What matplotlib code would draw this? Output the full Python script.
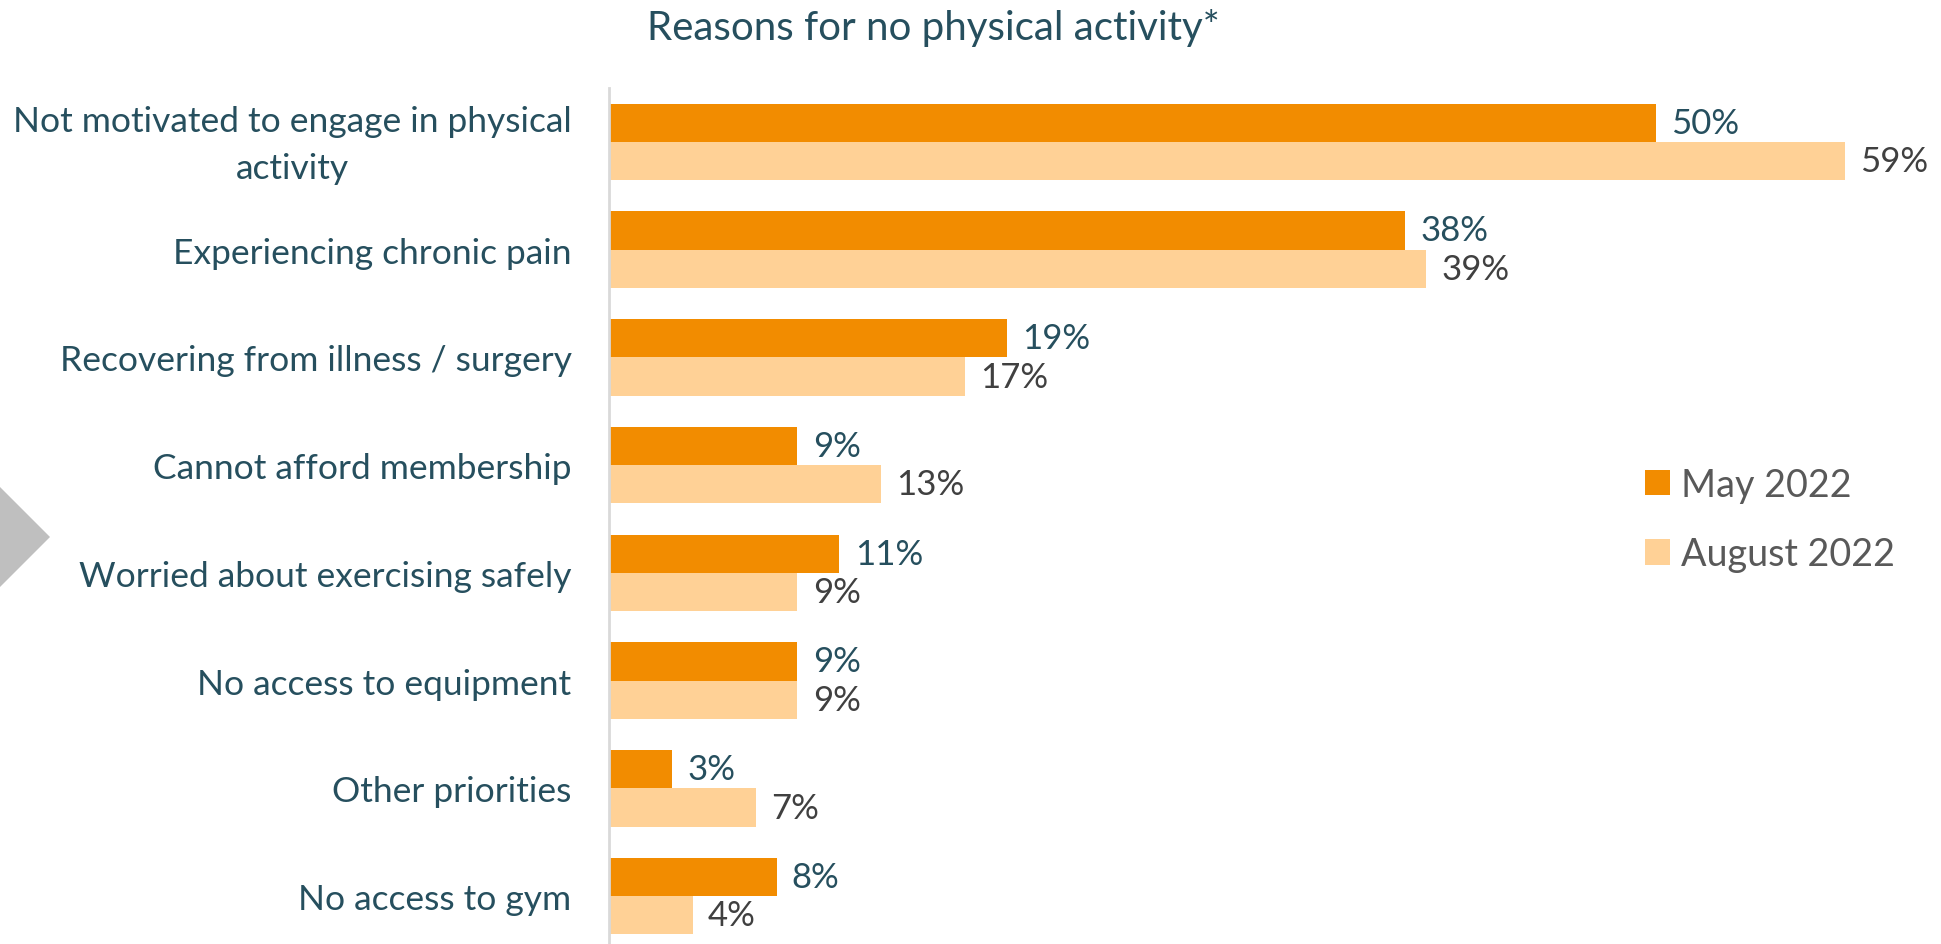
import matplotlib
matplotlib.use("Agg")
import matplotlib.pyplot as plt
import matplotlib.transforms as mtransforms
from matplotlib.patches import Polygon, Patch
import numpy as np

plt.rcParams['font.family'] = ['Lato', 'DejaVu Sans']

# Data
categories = [
    "Not motivated to engage in physical\nactivity",
    "Experiencing chronic pain",
    "Recovering from illness / surgery",
    "Cannot afford membership",
    "Worried about exercising safely",
    "No access to equipment",
    "Other priorities",
    "No access to gym",
]
may_2022 = [50, 38, 19, 9, 11, 9, 3, 8]
aug_2022 = [59, 39, 17, 13, 9, 9, 7, 4]
series_names = ["May 2022", "August 2022"]
title = "Reasons for no physical activity*"

# Styling
MAY_COLOR = "#F28C00"
AUG_COLOR = "#FFD196"
TEAL = "#264F5E"
DARK_GRAY = "#404040"
LEGEND_GRAY = "#595959"

W, H, DPI = 1941, 945, 100
fig = plt.figure(figsize=(W / DPI, H / DPI), dpi=DPI)

left_px = 609
ax = fig.add_axes([left_px / W, -6 / H, 1 - left_px / W, 862 / H])

y = np.arange(len(categories))
bar_h = 0.356
ax.barh(y - bar_h / 2, may_2022, height=bar_h, color=MAY_COLOR, label=series_names[0])
ax.barh(y + bar_h / 2, aug_2022, height=bar_h, color=AUG_COLOR, label=series_names[1])

ax.set_xlim(0, 63.6)
ax.set_ylim(len(categories) - 0.5, -0.5)

# Value labels
for yi, v in zip(y, may_2022):
    ax.annotate(f"{v}%", (v, yi - bar_h / 2), xytext=(11, 0), textcoords="offset points",
                va="center", ha="left", fontsize=25, color=TEAL)
for yi, v in zip(y, aug_2022):
    ax.annotate(f"{v}%", (v, yi + bar_h / 2), xytext=(11, 0), textcoords="offset points",
                va="center", ha="left", fontsize=25, color=DARK_GRAY)

ax.set_yticks(y)
ax.set_yticklabels(categories, fontsize=25.5, color=TEAL, multialignment="center",
                   linespacing=1.55)
ax.tick_params(axis="y", length=0, pad=27)
ax.set_xticks([])

# Nudge two-line category labels up so the block is centred on its bars
lift = mtransforms.ScaledTranslation(0, 5.5 / 72, fig.dpi_scale_trans)
for lab in ax.get_yticklabels():
    if "\n" in lab.get_text():
        lab.set_transform(lab.get_transform() + lift)

for side in ["top", "right", "bottom"]:
    ax.spines[side].set_visible(False)
ax.spines["left"].set_color("#D9D9D9")
ax.spines["left"].set_linewidth(2)

# Title
fig.text(933 / W, 1 - 28 / H, title, ha="center", va="center", fontsize=29, color=TEAL)

# Legend
handles = [Patch(facecolor=MAY_COLOR), Patch(facecolor=AUG_COLOR)]
fig.legend(handles, series_names, loc="upper left",
           bbox_to_anchor=(1611 / W, 1 - 434 / H), frameon=False,
           fontsize=27.2, labelcolor=LEGEND_GRAY, handlelength=0.66, handleheight=0.66,
           handletextpad=0.3, labelspacing=0.88)

# Grey chevron at the left edge
fig.patches.append(Polygon([(0, 1 - 488 / H), (50 / W, 1 - 538 / H), (0, 1 - 588 / H)],
                           closed=True, transform=fig.transFigure,
                           facecolor="#BFBFBF", edgecolor="none"))

fig.savefig("out.png", dpi=DPI)
